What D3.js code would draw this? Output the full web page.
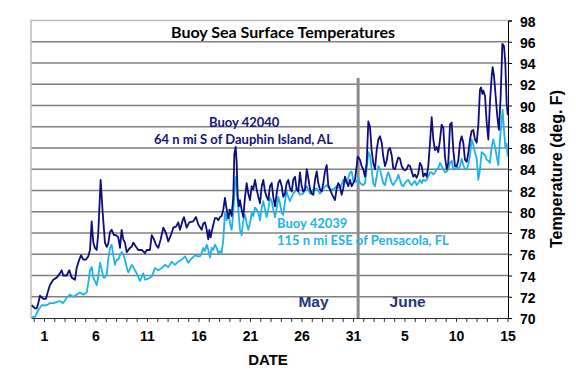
<!DOCTYPE html>
<html lang="en">
<head>
<meta charset="utf-8">
<title>Buoy Sea Surface Temperatures</title>
<script src="https://d3js.org/d3.v7.min.js"></script>
<style>
  body { margin: 0; background: #fff; }
  .axis text { font-family: "Liberation Sans", Arial, sans-serif; font-weight: bold; font-size: 14px; fill: #000; }
</style>
</head>
<body>
<script>
var w = 576, h = 384;
var margin = {top: 20.5, right: 68, bottom: 66, left: 31};

// day offsets are days after May 1 (0 = May 1)
var buoy42040 = [[-1.19,71.2],[-0.87,70.9],[-0.71,70.9],[-0.55,71.4],[-0.39,72.1],[-0.07,71.8],[0.19,71.8],[0.42,72.6],[0.58,73.1],[0.90,73.6],[1.23,73.8],[1.55,74.2],[1.72,74.5],[1.87,74.0],[2.20,74.0],[2.46,74.5],[2.69,73.8],[3.01,73.6],[3.17,74.7],[3.43,75.5],[3.59,75.9],[3.82,75.5],[4.08,75.5],[4.30,75.8],[4.47,76.4],[4.63,79.1],[4.79,77.1],[4.95,76.6],[5.12,76.4],[5.27,78.0],[5.50,83.0],[5.70,79.9],[5.92,77.1],[6.09,76.7],[6.24,77.0],[6.41,78.1],[6.57,78.3],[6.80,77.8],[6.99,77.8],[7.21,77.6],[7.38,76.6],[7.54,78.3],[7.70,77.4],[7.86,77.1],[8.03,76.2],[8.35,76.6],[8.51,76.7],[8.67,77.1],[8.93,76.7],[9.16,76.4],[9.49,76.4],[9.81,76.1],[9.97,76.4],[10.29,76.4],[10.46,77.8],[10.68,77.4],[10.87,76.9],[11.10,76.6],[11.33,77.4],[11.58,78.5],[11.84,78.0],[12.07,77.2],[12.40,78.0],[12.55,78.5],[12.82,78.6],[13.04,79.0],[13.20,78.3],[13.47,79.2],[13.59,79.5],[13.85,78.5],[14.11,79.0],[14.50,79.1],[14.76,79.5],[14.98,78.8],[15.31,78.3],[15.47,78.9],[15.63,79.0],[15.80,78.3],[15.95,77.4],[16.05,78.3],[16.18,77.6],[16.28,78.1],[16.44,78.8],[16.60,79.4],[16.77,79.4],[16.92,79.2],[17.09,79.5],[17.25,79.6],[17.41,80.2],[17.57,81.3],[17.74,80.2],[17.89,79.4],[18.06,80.2],[18.22,79.6],[18.38,81.4],[18.48,85.4],[18.61,86.1],[18.71,84.6],[18.81,81.4],[18.93,80.5],[19.03,81.1],[19.19,80.2],[19.35,79.5],[19.52,81.4],[19.68,82.7],[19.84,81.7],[20.00,81.1],[20.17,82.4],[20.32,82.1],[20.49,83.0],[20.65,82.1],[20.81,81.4],[20.97,80.8],[21.14,82.4],[21.29,83.0],[21.46,81.9],[21.62,81.4],[21.78,81.1],[21.94,82.4],[22.11,82.7],[22.26,81.4],[22.43,80.5],[22.59,81.7],[22.75,82.7],[22.91,83.0],[23.08,82.4],[23.23,81.4],[23.40,81.7],[23.56,82.7],[23.72,83.0],[23.88,82.2],[24.05,81.9],[24.20,83.0],[24.37,83.3],[24.53,82.1],[24.69,81.9],[24.85,83.7],[25.02,82.4],[25.17,81.9],[25.34,82.1],[25.51,84.0],[25.66,83.2],[25.83,82.1],[25.99,81.7],[26.15,81.6],[26.31,83.0],[26.48,83.8],[26.63,82.7],[26.80,82.1],[26.96,81.9],[27.12,82.7],[27.28,83.8],[27.45,84.4],[27.60,82.5],[27.77,82.1],[27.93,81.7],[28.09,81.4],[28.25,81.1],[28.42,82.2],[28.57,82.7],[28.74,82.4],[28.90,81.6],[29.06,82.2],[29.22,83.3],[29.39,82.8],[29.54,82.4],[29.71,83.0],[29.87,82.4],[30.03,82.7],[30.19,83.0],[30.36,84.3],[30.46,85.2],[30.68,84.9],[30.84,84.3],[31.00,84.0],[31.17,83.3],[31.33,84.6],[31.49,88.5],[31.65,88.0],[31.81,85.8],[31.97,84.6],[32.14,84.0],[32.30,85.8],[32.46,86.8],[32.62,87.1],[32.79,86.5],[32.94,85.2],[33.11,84.3],[33.27,84.8],[33.43,85.8],[33.59,86.0],[33.76,85.3],[33.91,84.1],[34.08,84.0],[34.24,84.6],[34.40,85.1],[34.56,85.0],[34.73,84.3],[34.88,84.0],[35.05,83.9],[35.21,84.0],[35.37,84.4],[35.53,84.3],[35.70,83.8],[35.85,83.3],[36.02,83.5],[36.18,83.2],[36.34,83.6],[36.50,84.6],[36.67,84.3],[36.83,83.3],[36.99,83.6],[37.16,83.3],[37.31,84.3],[37.48,86.5],[37.64,88.9],[37.80,86.8],[37.96,85.8],[38.13,86.1],[38.28,85.6],[38.45,86.8],[38.61,88.2],[38.77,87.9],[38.93,85.2],[39.10,84.0],[39.25,84.6],[39.42,88.2],[39.58,88.4],[39.74,85.8],[39.90,84.3],[40.07,84.3],[40.22,84.8],[40.39,86.5],[40.55,87.1],[40.71,86.5],[40.87,84.9],[41.04,84.7],[41.19,85.5],[41.36,86.8],[41.52,87.6],[41.68,87.7],[41.84,86.8],[42.01,86.5],[42.17,88.2],[42.33,91.5],[42.43,91.7],[42.56,91.1],[42.65,91.4],[42.82,90.9],[42.98,88.4],[43.14,86.8],[43.30,90.3],[43.47,92.8],[43.56,93.6],[43.69,92.8],[43.85,90.9],[44.01,89.0],[44.17,87.7],[44.34,90.9],[44.50,95.8],[44.66,95.6],[44.79,94.0],[44.92,90.2],[45.03,89.1]];

var buoy42039 = [[-1.19,70.1],[-0.87,70.1],[-0.55,70.75],[-0.22,71.2],[0.26,71.2],[0.58,71.4],[0.90,71.4],[1.23,71.5],[1.55,71.6],[1.87,71.4],[2.20,71.9],[2.52,72.2],[2.84,72.0],[3.17,72.2],[3.50,72.4],[3.82,72.2],[4.15,72.4],[4.30,73.3],[4.47,74.5],[4.63,74.8],[4.79,73.8],[4.95,73.5],[5.12,73.1],[5.27,73.9],[5.44,75.2],[5.60,74.6],[5.76,73.8],[5.92,73.8],[6.09,74.1],[6.24,75.5],[6.41,76.6],[6.57,76.9],[6.73,75.9],[6.89,75.0],[7.06,75.5],[7.21,75.5],[7.38,75.9],[7.54,76.2],[7.70,76.0],[7.86,75.5],[8.03,74.8],[8.18,74.3],[8.35,74.6],[8.51,75.0],[8.67,74.8],[9.00,74.2],[9.32,73.5],[9.64,74.2],[9.81,73.6],[10.13,73.7],[10.46,73.9],[10.78,74.7],[11.10,74.5],[11.43,74.7],[11.75,75.0],[12.07,74.8],[12.40,75.3],[12.72,75.0],[13.04,75.3],[13.37,75.5],[13.69,75.8],[14.01,75.2],[14.34,75.6],[14.66,75.9],[14.98,75.8],[15.15,75.8],[15.31,76.1],[15.47,76.6],[15.63,76.3],[15.80,76.9],[15.95,76.4],[16.12,75.7],[16.28,76.6],[16.44,76.4],[16.60,76.9],[16.77,76.6],[16.92,76.1],[17.09,76.3],[17.25,76.1],[17.41,77.4],[17.57,79.9],[17.74,79.2],[17.89,80.2],[18.06,78.9],[18.22,78.3],[18.38,79.9],[18.54,82.7],[18.64,83.3],[18.77,81.4],[18.93,79.5],[19.03,78.3],[19.19,77.8],[19.35,79.2],[19.52,79.7],[19.68,78.9],[19.84,78.3],[20.00,78.9],[20.17,79.9],[20.32,79.6],[20.49,80.4],[20.65,80.2],[20.81,79.9],[20.97,79.2],[21.14,80.4],[21.29,81.0],[21.46,80.2],[21.62,79.5],[21.78,80.2],[21.94,81.3],[22.11,81.0],[22.26,80.2],[22.43,79.5],[22.59,80.3],[22.75,81.4],[22.91,80.8],[23.08,79.9],[23.23,79.7],[23.40,81.0],[23.56,81.9],[23.72,81.4],[23.88,81.0],[24.05,81.4],[24.20,81.7],[24.37,81.9],[24.53,82.2],[24.69,81.9],[24.85,81.6],[25.17,81.7],[25.51,82.4],[25.83,81.7],[26.15,82.1],[26.48,82.2],[26.80,81.7],[27.12,82.2],[27.45,82.5],[27.77,82.1],[28.09,82.1],[28.42,82.4],[28.74,82.2],[29.06,83.0],[29.39,82.7],[29.71,83.7],[29.87,83.8],[30.03,82.9],[30.36,82.8],[30.52,83.2],[30.68,82.7],[31.00,82.5],[31.17,82.7],[31.33,84.0],[31.49,85.6],[31.65,85.3],[31.81,84.0],[31.97,82.7],[32.14,82.4],[32.30,83.3],[32.46,84.3],[32.62,84.0],[32.79,83.3],[32.94,82.7],[33.11,82.5],[33.27,83.3],[33.43,83.7],[33.59,83.3],[33.76,82.7],[33.91,82.5],[34.08,82.8],[34.24,83.0],[34.40,83.5],[34.56,83.0],[34.73,82.5],[34.88,82.4],[35.05,82.7],[35.21,82.9],[35.37,83.0],[35.53,82.7],[35.70,82.5],[35.85,82.7],[36.02,82.9],[36.18,82.5],[36.34,82.7],[36.50,83.0],[36.67,82.7],[36.83,83.0],[36.99,82.9],[37.16,83.0],[37.31,83.3],[37.48,83.7],[37.64,83.7],[37.80,83.5],[37.96,83.7],[38.13,84.0],[38.28,84.1],[38.45,84.6],[38.61,84.3],[38.77,84.0],[38.93,83.7],[39.10,83.8],[39.25,84.0],[39.42,84.6],[39.58,84.8],[39.74,84.0],[39.90,84.0],[40.07,84.3],[40.22,84.0],[40.39,84.3],[40.55,85.0],[40.71,84.4],[40.87,84.0],[41.04,84.0],[41.19,84.4],[41.36,85.3],[41.52,86.8],[41.68,86.3],[41.84,85.6],[42.01,85.0],[42.17,83.0],[42.33,84.0],[42.49,85.6],[42.65,85.5],[42.82,85.3],[42.98,84.9],[43.14,84.8],[43.30,84.6],[43.47,86.1],[43.62,86.8],[43.79,86.1],[43.95,85.2],[44.11,84.4],[44.27,86.8],[44.44,88.7],[44.53,89.6],[44.66,87.7],[44.79,86.1],[44.92,86.4],[45.03,85.2]];

var tempTicks = [70, 72, 74, 76, 78, 80, 82, 84, 86, 88, 90, 92, 94, 96, 98];
var dayTicks = d3.range(-1, 46);   // one tick per day
var dayLabels = {0: "1", 5: "6", 10: "11", 15: "16", 20: "21", 25: "26", 30: "31", 35: "5", 40: "10", 45: "15"};
var monthBreak = 30.5;             // between May 31 and June 1

var dark = "#0d0d80", light = "#1db4ec", grid = "#808080";

var svg = d3.select("body").append("svg")
    .attr("width", w)
    .attr("height", h);

var x = d3.scaleLinear()
    .domain([-1.26, 45.05])
    .range([margin.left, w - margin.right]);

var y = d3.scaleLinear()
    .domain([70, 98])
    .range([h - margin.bottom, margin.top]);

// gridlines
svg.append("g").selectAll("line")
    .data(tempTicks.slice(1, -1))
    .enter().append("line")
    .attr("x1", x.range()[0]).attr("x2", x.range()[1])
    .attr("y1", function(d) { return y(d); })
    .attr("y2", function(d) { return y(d); })
    .attr("stroke", grid)
    .attr("stroke-width", 1.5);

// plot area border (top, left)
svg.append("path")
    .attr("d", "M" + x.range()[1] + "," + y(98) + "H" + x.range()[0] + "V" + y(70))
    .attr("fill", "none")
    .attr("stroke", "#bdbdbd")
    .attr("stroke-width", 1.5);

// month divider
svg.append("line")
    .attr("x1", x(monthBreak)).attr("x2", x(monthBreak))
    .attr("y1", y(92.6)).attr("y2", y(70))
    .attr("stroke", "#8c8c8c")
    .attr("stroke-width", 3);

var line = d3.line()
    .x(function(d) { return x(d[0]); })
    .y(function(d) { return y(d[1]); });

svg.append("path")
    .datum(buoy42039)
    .attr("fill", "none")
    .attr("stroke", light)
    .attr("stroke-width", 1.8)
    .attr("stroke-linejoin", "round")
    .attr("d", line);

svg.append("path")
    .datum(buoy42040)
    .attr("fill", "none")
    .attr("stroke", dark)
    .attr("stroke-width", 1.8)
    .attr("stroke-linejoin", "round")
    .attr("d", line);

// right axis
var yAxis = svg.append("g")
    .attr("class", "axis")
    .attr("transform", "translate(" + x.range()[1] + ",0)")
    .call(d3.axisRight(y).tickValues(tempTicks).tickSize(4).tickPadding(8));
yAxis.select(".domain").attr("stroke", "#000");
yAxis.selectAll("text").attr("dy", "0.4em");

// bottom axis
var xAxis = svg.append("g")
    .attr("class", "axis")
    .attr("transform", "translate(0," + y(70) + ")")
    .call(d3.axisBottom(x).tickValues(dayTicks).tickSize(4).tickSizeOuter(0).tickPadding(9)
        .tickFormat(function(d) { return dayLabels[d] || ""; }));
xAxis.select(".domain").attr("stroke", "#333");
xAxis.selectAll(".tick line").attr("stroke", "#333");

svg.append("text")
    .attr("x", 268).attr("y", 365)
    .attr("text-anchor", "middle")
    .style("font-family", "Liberation Sans, Arial, sans-serif")
    .style("font-weight", "bold")
    .style("font-size", "15px")
    .text("DATE");

svg.append("text")
    .attr("transform", "translate(562,169) rotate(-90)")
    .attr("text-anchor", "middle")
    .style("font-family", "Liberation Sans, Arial, sans-serif")
    .style("font-weight", "bold")
    .style("font-size", "16px")
    .text("Temperature (deg. F)");

// title
svg.append("text")
    .attr("x", 283).attr("y", 38)
    .attr("text-anchor", "middle")
    .style("font-family", "Lato, sans-serif")
    .style("font-weight", "bold")
    .style("font-size", "16px")
    .text("Buoy Sea Surface Temperatures");

// month names
var months = [{name: "May", d: 24.7}, {name: "June", d: 33.55}];
svg.selectAll(".month")
    .data(months)
    .enter().append("text")
    .attr("x", function(d) { return x(d.d); })
    .attr("y", 307)
    .attr("text-anchor", "start")
    .style("font-family", "Liberation Sans, Arial, sans-serif")
    .style("font-weight", "bold")
    .style("font-size", "15.5px")
    .style("fill", "#1f3578")
    .text(function(d) { return d.name; });

// series labels
var labels = [
  {lines: ["Buoy 42040", "64 n mi S of Dauphin Island, AL"], x: [209, 154], y: 127, color: "#14147a"},
  {lines: ["Buoy 42039", "115 n mi ESE of Pensacola, FL"], x: [277, 277], y: 228, color: light}
];
labels.forEach(function(l) {
  l.lines.forEach(function(t, i) {
    svg.append("text")
      .attr("x", l.x[i]).attr("y", l.y + i * 16.5)
      .style("font-family", "Lato, sans-serif")
      .style("font-weight", "bold")
      .style("font-size", "13px")
      .style("fill", l.color)
      .text(t);
  });
});
</script>
</body>
</html>
